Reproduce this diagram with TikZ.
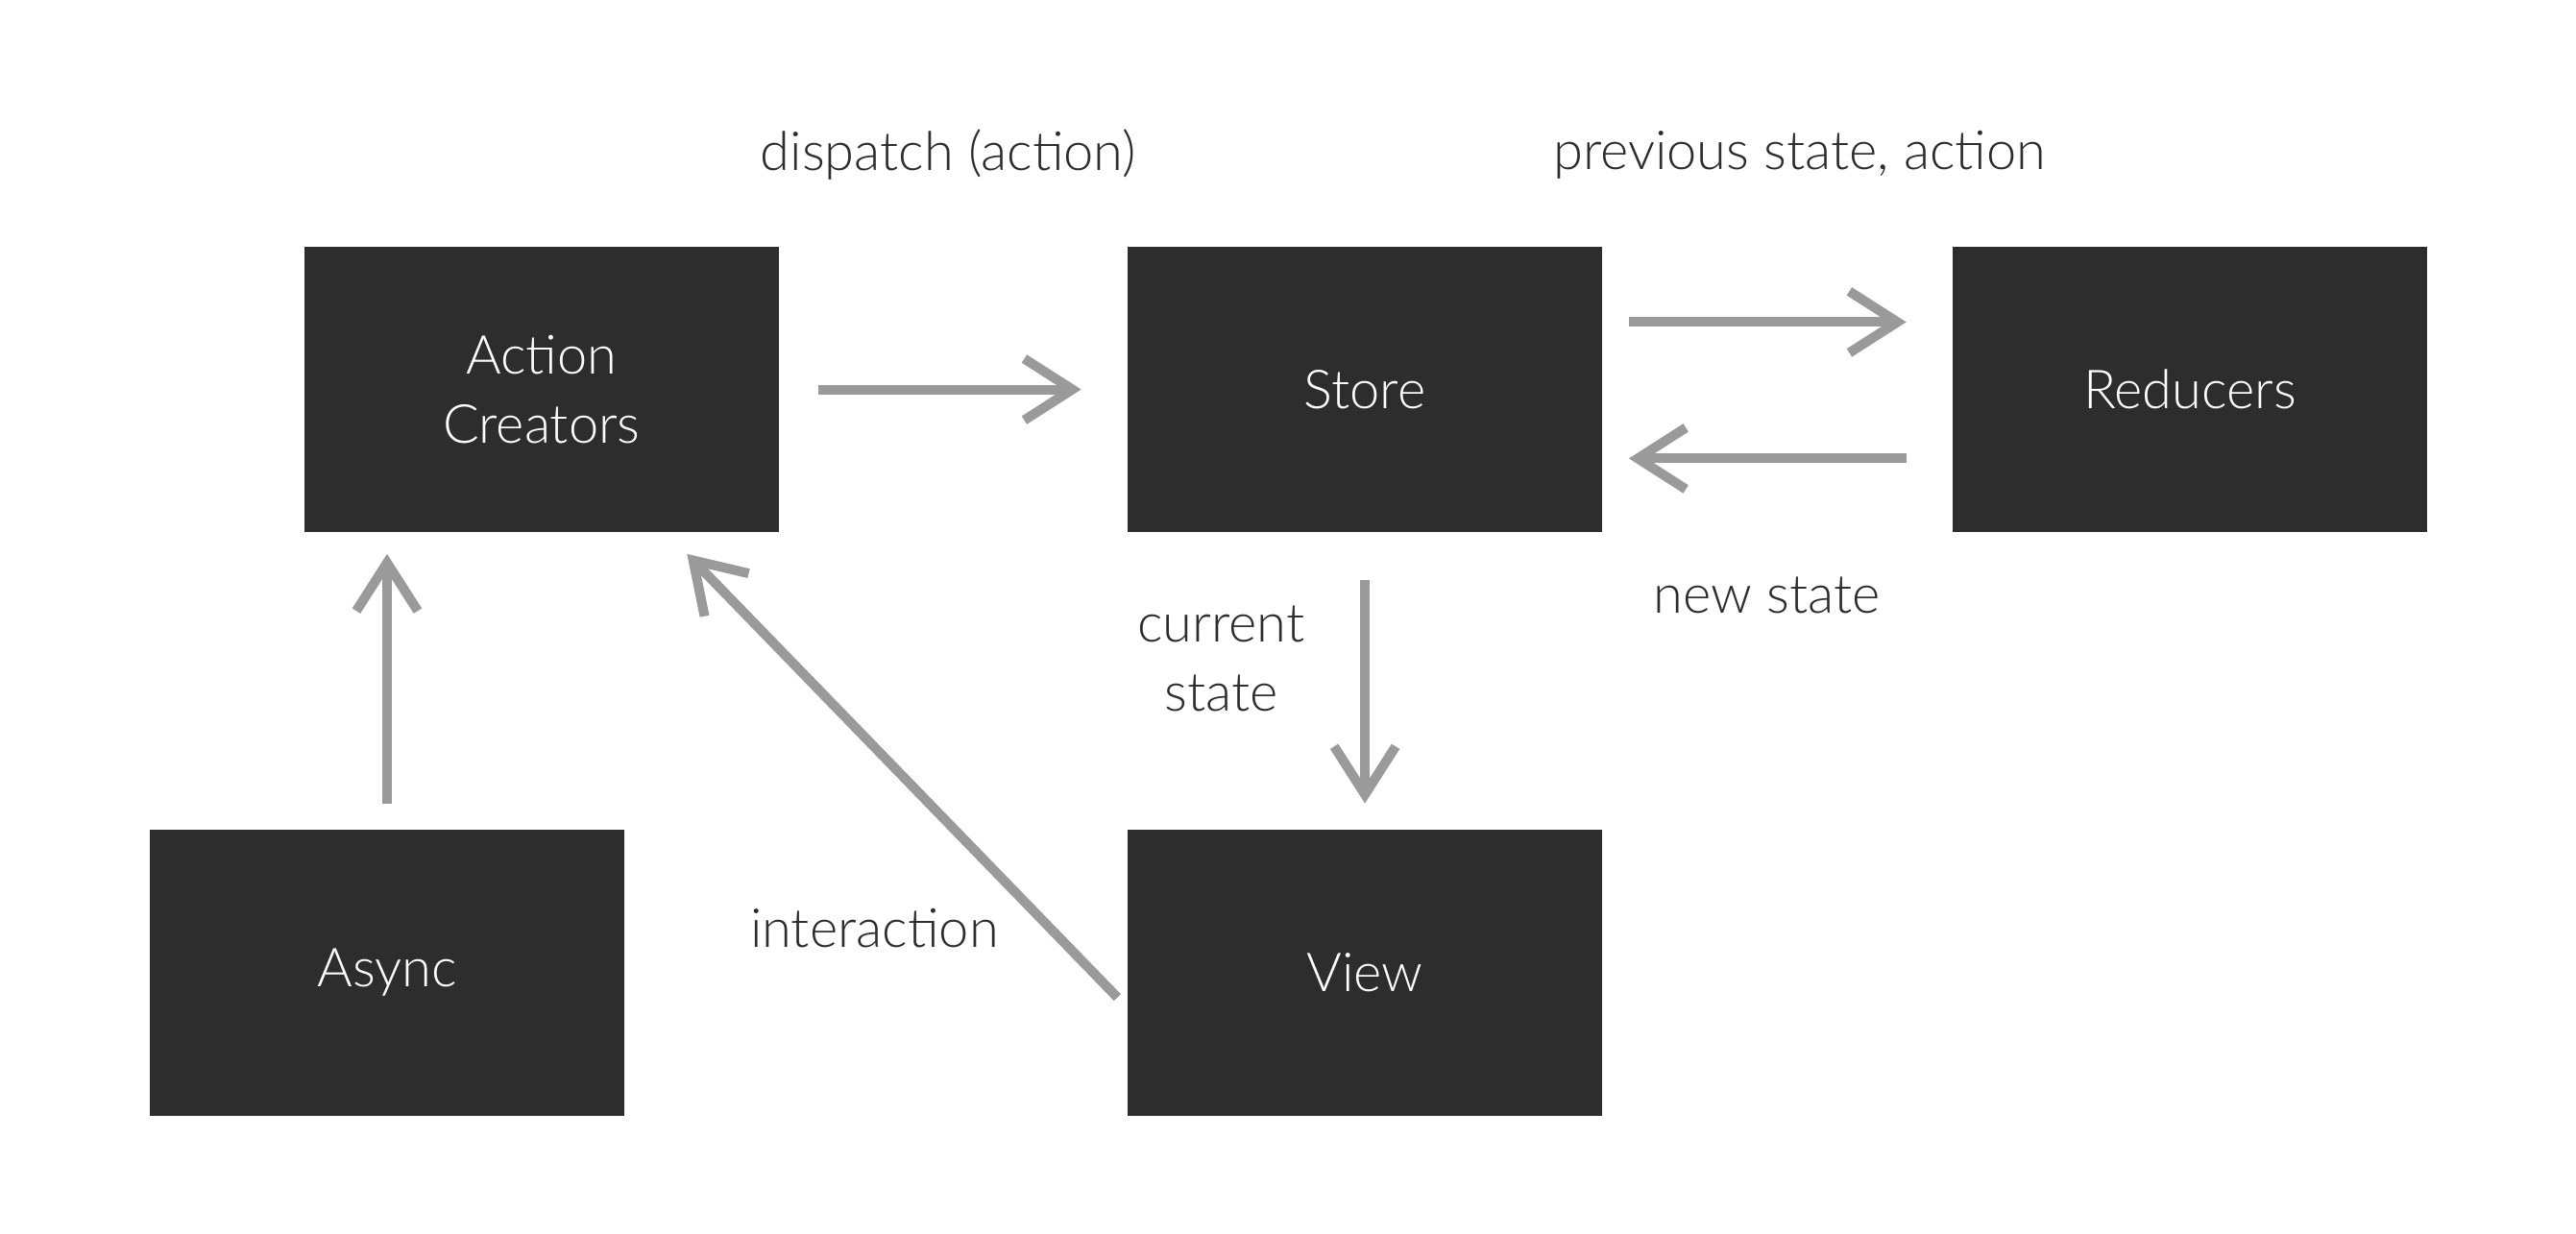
\documentclass[tikz,border=0pt]{standalone}
\usepackage{fontspec}
\setmainfont{Lato Light}
\usetikzlibrary{arrows.meta,calc}
\definecolor{boxfill}{HTML}{2E2D2E}
\definecolor{arrowgray}{HTML}{9A9A9A}
\definecolor{labelcol}{HTML}{2E2D2E}
\begin{document}
\begin{tikzpicture}[x=1.7111pt,y=-1.7111pt,
  box/.style={fill=boxfill,text=white,minimum width=494.5pt,minimum height=297.7pt,inner sep=0pt,align=center,font=\fontsize{56pt}{72pt}\selectfont},
  lbl/.style={text=labelcol,inner sep=0pt,align=center,font=\fontsize{56pt}{72pt}\selectfont},
  conn/.style={draw=arrowgray,line width=10pt,-{Straight Barb[length=50pt,width=64pt]}}]
\useasboundingbox[fill=white] (0,0) rectangle (1567.4,750.4);
\node[box] (ac) at (329.5,237) {Action\\Creators};
\node[box] (store) at (830.5,237) {Store};
\node[box] (red) at (1332.5,237) {Reducers};
\node[box] (async) at (235.5,592) {Async};
\node[box] (view) at (830.5,592) {View};
\node[lbl] (ldispatch) at (577,94) {dispatch (action)};
\node[lbl] (lprev) at (1095,94) {previous state, action};
\node[lbl] (lnew) at (1075,362) {new state};
\node[lbl] (lcur) at (743,401) {current\\state};
\node[lbl] (linter) at (532,565) {interaction};
\draw[conn] ($(ac.east)+(24,0)$) -- ($(store.west)+(-28,0)$);
\draw[conn] ($(store.east)+(16,-41)$) -- ($(red.west)+(-28,-41)$);
\draw[conn] ($(red.west)+(-28,42)$) -- ($(store.east)+(16,42)$);
\draw[conn] ($(store.south)+(0,29)$) -- ($(view.north)+(0,-16)$);
\draw[conn] ($(async.north)+(0,-16)$) -- ($(async.north|-ac.south)+(0,13)$);
\draw[conn] ($(view.west)+(-6,15)$) -- ($(ac.south)+(88.5,13)$);
\end{tikzpicture}
\end{document}
